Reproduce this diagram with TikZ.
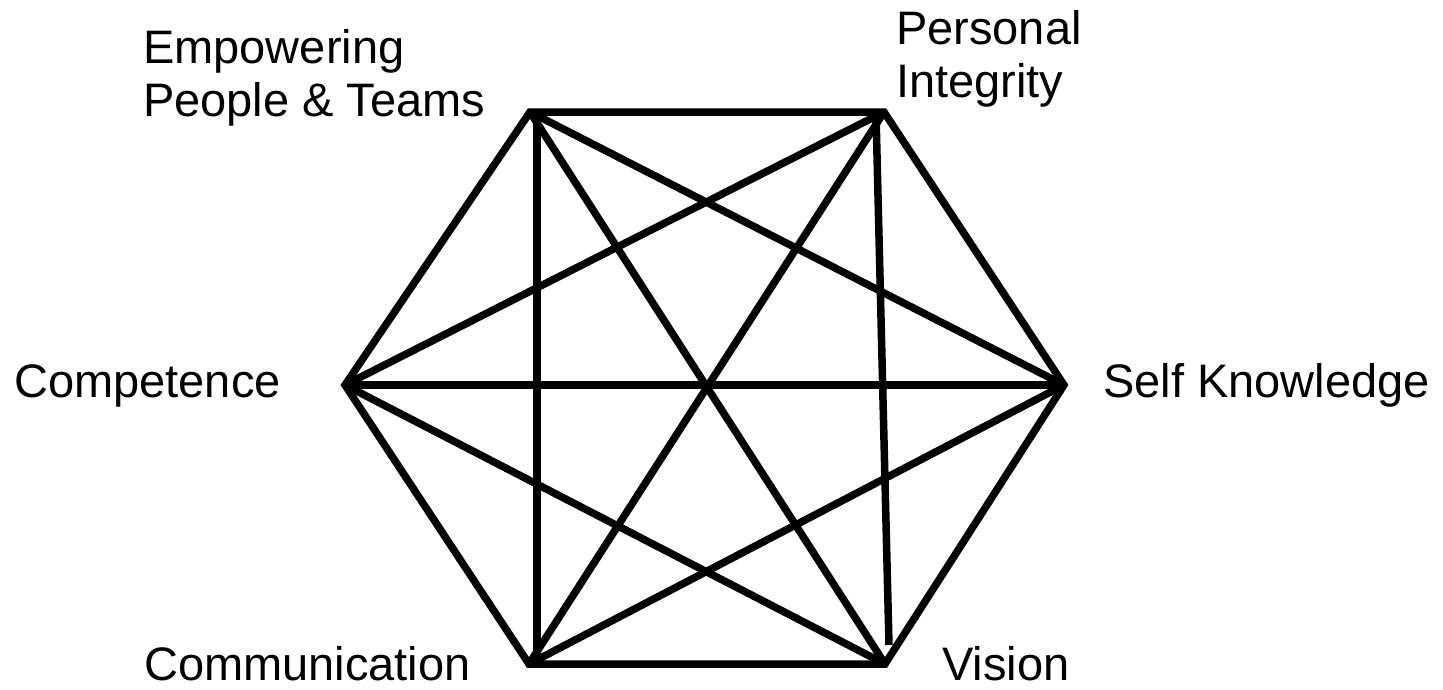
\documentclass[tikz,border=0pt]{standalone}
\usepackage{fontspec}
\setmainfont{Liberation Sans}
\begin{document}
\begin{tikzpicture}[x=1pt,y=-1pt,
  edge/.style={line width=7.5pt, line join=miter},
  lbl/.style={inner sep=0pt, anchor=base west, font=\fontsize{47}{53}\selectfont},
  lbl2/.style={lbl, align=left}]
\useasboundingbox (0,0) rectangle (1443,689);
% vertices
\coordinate (EP) at (530,112);
\coordinate (PI) at (884,112);
\coordinate (SK) at (1064,385);
\coordinate (V) at (885,664);
\coordinate (C) at (529,664);
\coordinate (CO) at (345,385);
\coordinate (EPv) at (537,112);
\coordinate (Cv) at (537,664);
\coordinate (PIv) at (876,114);
\coordinate (Vend) at (889,645);
% hexagon
\draw[edge] (EP) -- (PI) -- (SK) -- (V) -- (C) -- (CO) -- cycle;
% diagonals
\draw[edge] (EP) -- (SK);
\draw[edge] (EP) -- (V);
\draw[edge] (EPv) -- (Cv);
\draw[edge] (PI) -- (C);
\draw[edge] (PI) -- (CO);
\draw[edge] (PIv) -- (Vend);
\draw[edge] (SK) -- (C);
\draw[edge] (SK) -- (CO);
\draw[edge] (V) -- (CO);
% labels
\node[lbl2] (lEP) at (143,116) {Empowering\\People \& Teams};
\node[lbl2] (lPI) at (896,97) {Personal\\Integrity};
\node[lbl] (lCO) at (14,397) {Competence};
\node[lbl] (lSK) at (1103,397) {Self Knowledge};
\node[lbl] (lC) at (144,680) {Communication};
\node[lbl] (lV) at (942,680) {Vision};
\end{tikzpicture}
\end{document}
